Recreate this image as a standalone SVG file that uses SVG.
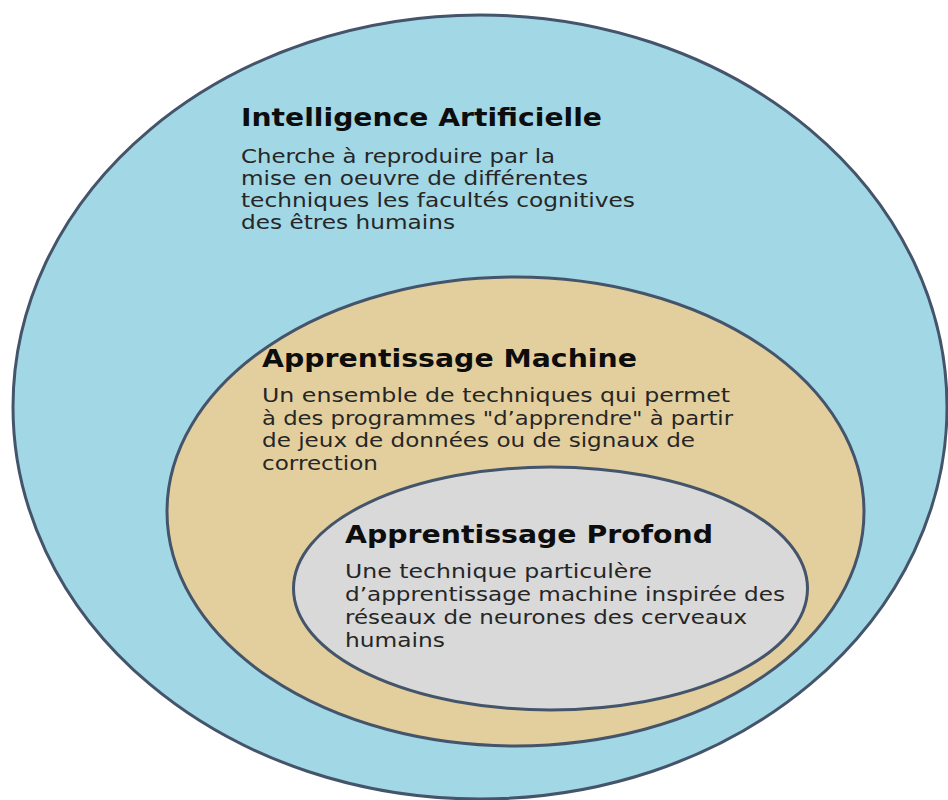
<svg xmlns="http://www.w3.org/2000/svg" width="948" height="800" viewBox="0 0 948 800">
<style>
.ring{stroke:#44546A;stroke-width:3}
.title{font-family:"DejaVu Sans","Noto Sans",sans-serif;font-weight:bold;font-size:25px;fill:#0d0d0d}
.body{font-family:"DejaVu Sans","Noto Sans",sans-serif;font-size:19px;fill:#262626}
</style>
<rect width="948" height="800" fill="#ffffff"/>
<g id="ia">
<ellipse class="ring" cx="480" cy="407" rx="467" ry="392" fill="#A2D7E5"/>
<text class="title" x="241" y="126" textLength="361" lengthAdjust="spacingAndGlyphs">Intelligence Artificielle</text>
<text class="body" x="241" y="163" textLength="314" lengthAdjust="spacingAndGlyphs">Cherche à reproduire par la</text>
<text class="body" x="241" y="185" textLength="347" lengthAdjust="spacingAndGlyphs">mise en oeuvre de différentes</text>
<text class="body" x="241" y="207" textLength="394" lengthAdjust="spacingAndGlyphs">techniques les facultés cognitives</text>
<text class="body" x="241" y="229" textLength="214" lengthAdjust="spacingAndGlyphs">des êtres humains</text>
</g>
<g id="am">
<ellipse class="ring" cx="515.5" cy="511.5" rx="348.5" ry="234.5" fill="#E3CF9E"/>
<text class="title" x="262" y="367" textLength="375" lengthAdjust="spacingAndGlyphs">Apprentissage Machine</text>
<text class="body" x="262" y="402" textLength="468" lengthAdjust="spacingAndGlyphs">Un ensemble de techniques qui permet</text>
<text class="body" x="262" y="425" textLength="471" lengthAdjust="spacingAndGlyphs">à des programmes "d’apprendre" à partir</text>
<text class="body" x="262" y="447" textLength="433" lengthAdjust="spacingAndGlyphs">de jeux de données ou de signaux de</text>
<text class="body" x="262" y="470" textLength="116" lengthAdjust="spacingAndGlyphs">correction</text>
</g>
<g id="ap">
<ellipse class="ring" cx="550.5" cy="588.5" rx="257" ry="121.5" fill="#D9D9D9"/>
<text class="title" x="345" y="543" textLength="368" lengthAdjust="spacingAndGlyphs">Apprentissage Profond</text>
<text class="body" x="345" y="578" textLength="307" lengthAdjust="spacingAndGlyphs">Une technique particulère</text>
<text class="body" x="345" y="601" textLength="440" lengthAdjust="spacingAndGlyphs">d’apprentissage machine inspirée des</text>
<text class="body" x="345" y="624" textLength="402" lengthAdjust="spacingAndGlyphs">réseaux de neurones des cerveaux</text>
<text class="body" x="345" y="647" textLength="100" lengthAdjust="spacingAndGlyphs">humains</text>
</g>
<g id="connectors"></g>
</svg>
